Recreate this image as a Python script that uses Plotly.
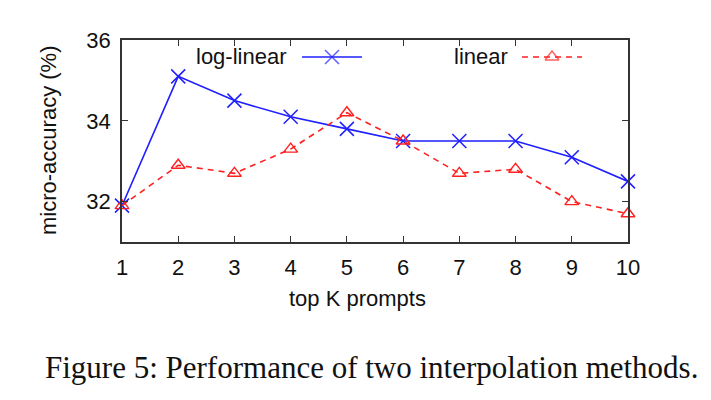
import plotly.graph_objects as go

k_values = [1, 2, 3, 4, 5, 6, 7, 8, 9, 10]
log_linear = [31.9, 35.1, 34.5, 34.1, 33.8, 33.5, 33.5, 33.5, 33.1, 32.5]
linear = [31.9, 32.9, 32.7, 33.3, 34.2, 33.5, 32.7, 32.8, 32.0, 31.7]
y_ticks = [32, 34, 36]
series_names = ["log-linear", "linear"]

BLUE = "#1f1fff"
RED = "#ff2020"
FONT = "Liberation Sans, Arial, sans-serif"
TXT = "#111111"

# page has an 8px body margin; plot area in window pixels: x 122..628, y 40..242
PL, PR, PT, PB = 122, 628, 40, 242
W, H = 711 - 8, 400 - 8


def px(x):
    return (x - PL) / (PR - PL)


def py(y):
    return (PB - y) / (PB - PT)


fig = go.Figure()
fig.add_trace(go.Scatter(
    x=k_values, y=log_linear, mode="lines+markers", name=series_names[0],
    line=dict(color=BLUE, width=1.6),
    marker=dict(symbol="x-thin", size=14, line=dict(color=BLUE, width=1.5), color=BLUE),
    cliponaxis=False,
))
fig.add_trace(go.Scatter(
    x=k_values, y=linear, mode="lines+markers", name=series_names[1],
    line=dict(color=RED, width=1.6, dash="6px,5px"),
    marker=dict(symbol="triangle-up-open", size=12, line=dict(color=RED, width=1.4), color=RED),
    cliponaxis=False,
))

# legend samples (text left, sample right, gnuplot style) on an overlay axis in [0,1]
LEG_Y = py(57)
fig.add_trace(go.Scatter(
    x=[px(302), px(332), px(362)], y=[LEG_Y] * 3, xaxis="x2", yaxis="y2",
    mode="lines+markers", showlegend=False, hoverinfo="skip",
    line=dict(color=BLUE, width=1.6),
    marker=dict(symbol="x-thin", size=[0, 14, 0], line=dict(color=BLUE, width=1.5), color=BLUE),
))
fig.add_trace(go.Scatter(
    x=[px(522), px(552), px(582)], y=[LEG_Y] * 3, xaxis="x2", yaxis="y2",
    mode="lines+markers", showlegend=False, hoverinfo="skip",
    line=dict(color=RED, width=1.6, dash="6px,5px"),
    marker=dict(symbol="triangle-up-open", size=[0, 12, 0], line=dict(color=RED, width=1.4), color=RED),
))

axis_common = dict(
    showline=True, linecolor="#333333", linewidth=1.5, mirror="ticks",
    ticks="inside", ticklen=6, tickwidth=1, tickcolor="#333333",
    showgrid=False, zeroline=False,
    tickfont=dict(family=FONT, size=22, color=TXT),
)

fig.update_layout(
    width=W, height=H,
    margin=dict(l=PL - 8, r=711 - PR, t=PT - 8, b=400 - PB),
    plot_bgcolor="white", paper_bgcolor="white",
    showlegend=False,
    xaxis=dict(range=[1, 10], tickmode="array", tickvals=k_values, ticklabelstandoff=5, **axis_common),
    yaxis=dict(range=[31, 36], tickmode="array", tickvals=y_ticks, ticklabelstandoff=5, **axis_common),
    xaxis2=dict(range=[0, 1], overlaying="x", anchor="y2", visible=False),
    yaxis2=dict(range=[0, 1], overlaying="y", anchor="x2", visible=False),
    annotations=[
        dict(text=series_names[0], x=px(289), y=LEG_Y, xref="paper", yref="paper",
             xanchor="right", yanchor="middle", showarrow=False,
             font=dict(family=FONT, size=22, color=TXT)),
        dict(text=series_names[1], x=px(510), y=LEG_Y, xref="paper", yref="paper",
             xanchor="right", yanchor="middle", showarrow=False,
             font=dict(family=FONT, size=22, color=TXT)),
        dict(text="micro-accuracy (%)", x=px(48), y=py(141), xref="paper", yref="paper",
             textangle=-90, xanchor="center", yanchor="middle", showarrow=False,
             font=dict(family=FONT, size=22, color=TXT)),
        dict(text="top K prompts", x=px(357), y=py(298), xref="paper", yref="paper",
             xanchor="center", yanchor="middle", showarrow=False,
             font=dict(family=FONT, size=22, color=TXT)),
        dict(text="Figure 5: Performance of two interpolation methods.", x=px(371), y=py(367),
             xref="paper", yref="paper", yanchor="middle", xanchor="center", showarrow=False,
             font=dict(family="Liberation Serif, Times New Roman, serif", size=31, color=TXT)),
    ],
)

fig.write_html("out.html")
